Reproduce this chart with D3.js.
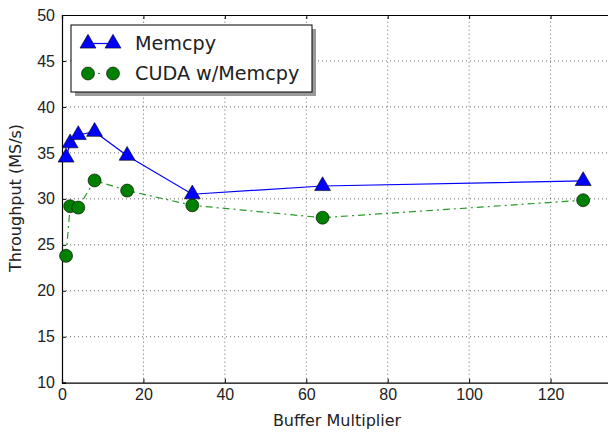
<!DOCTYPE html>
<html>
<head>
<meta charset="utf-8">
<script src="https://cdn.jsdelivr.net/npm/d3@7"></script>
<style>
  body { margin: 0; background: #fff; }
  svg { font-family: "DejaVu Sans", sans-serif; }
  .tick text { fill: #222; font-size: 16px; }
</style>
</head>
<body>
<script>
// Data
const bufferMultiplier = [1, 2, 4, 8, 16, 32, 64, 128];
const memcpy = [34.5, 36.05, 36.95, 37.3, 34.7, 30.5, 31.4, 31.95];
const cudaMemcpy = [23.8, 29.2, 29.05, 32.0, 30.9, 29.3, 27.95, 29.85];
const xTicks = [0, 20, 40, 60, 80, 100, 120];
const yTicks = [10, 15, 20, 25, 30, 35, 40, 45, 50];

const W = 608, H = 432;
const margin = { left: 62, top: 15 };
const plotW = 570, plotH = 367.7;

const svg = d3.select("body").append("svg")
    .attr("width", W)
    .attr("height", H);

const x = d3.scaleLinear().domain([0, 140]).range([margin.left, margin.left + plotW]);
const y = d3.scaleLinear().domain([10, 50]).range([margin.top + plotH, margin.top]);

svg.append("clipPath").attr("id", "plot-clip")
    .append("rect")
    .attr("x", margin.left).attr("y", margin.top)
    .attr("width", plotW).attr("height", plotH);

// Grid (dotted black)
const grid = svg.append("g");
grid.selectAll(".gx").data(xTicks.slice(1)).enter().append("line")
    .attr("x1", d => x(d)).attr("x2", d => x(d))
    .attr("y1", y(10)).attr("y2", y(50))
    .attr("stroke", "#000").attr("stroke-width", 0.6)
    .attr("stroke-dasharray", "1,3");
grid.selectAll(".gy").data(yTicks.slice(1, -1)).enter().append("line")
    .attr("x1", x(0)).attr("x2", x(140))
    .attr("y1", d => y(d)).attr("y2", d => y(d))
    .attr("stroke", "#000").attr("stroke-width", 0.6)
    .attr("stroke-dasharray", "1,3");

// Axes with inward ticks
const xAxis = svg.append("g")
    .attr("transform", `translate(0,${y(10)})`)
    .call(d3.axisBottom(x).tickValues(xTicks).tickSize(-4).tickPadding(8).tickFormat(d3.format("d")));
const xAxisTop = svg.append("g")
    .attr("transform", `translate(0,${y(50)})`)
    .call(d3.axisTop(x).tickValues(xTicks).tickSize(-4).tickFormat(""));
const yAxis = svg.append("g")
    .attr("transform", `translate(${x(0)},0)`)
    .call(d3.axisLeft(y).tickValues(yTicks).tickSize(-4).tickPadding(7).tickFormat(d3.format("d")));
[xAxis, xAxisTop, yAxis].forEach(a => {
    a.select(".domain").attr("stroke", "#000").attr("stroke-width", 1.2);
    a.selectAll(".tick line").attr("stroke", "#000");
});
xAxis.selectAll(".tick text").attr("dy", "0.6em");

// Lines
const plot = svg.append("g").attr("clip-path", "url(#plot-clip)");
const line = d3.line().x(d => x(d[0])).y(d => y(d[1]));

plot.append("path")
    .datum(d3.zip(bufferMultiplier, memcpy))
    .attr("d", line)
    .attr("fill", "none").attr("stroke", "#0000ff").attr("stroke-width", 1.2);

plot.append("path")
    .datum(d3.zip(bufferMultiplier, cudaMemcpy))
    .attr("d", line)
    .attr("fill", "none").attr("stroke", "#2a9a2a").attr("stroke-width", 1.2)
    .attr("stroke-dasharray", "7,4,2,4");

// Markers
const tri = d3.symbol().type(d3.symbolTriangle).size(110);

svg.append("g").selectAll("circle")
    .data(d3.zip(bufferMultiplier, cudaMemcpy))
    .enter().append("circle")
    .attr("cx", d => x(d[0])).attr("cy", d => y(d[1]))
    .attr("r", 6.5)
    .attr("fill", "#008000").attr("stroke", "#000").attr("stroke-width", 0.6);

svg.append("g").selectAll("path")
    .data(d3.zip(bufferMultiplier, memcpy))
    .enter().append("path")
    .attr("d", tri)
    .attr("transform", d => `translate(${x(d[0])},${y(d[1])})`)
    .attr("fill", "#0000ff").attr("stroke", "#000").attr("stroke-width", 0.6);

// Axis labels
svg.append("text")
    .attr("x", 337).attr("y", 426)
    .attr("text-anchor", "middle")
    .attr("font-size", "16px").attr("fill", "#222")
    .text("Buffer Multiplier");

svg.append("text")
    .attr("transform", "translate(21,198) rotate(-90)")
    .attr("text-anchor", "middle")
    .attr("font-size", "16px").attr("fill", "#222")
    .text("Throughput (MS/s)");

// Legend
const legend = svg.append("g").attr("transform", "translate(71,25)");
legend.append("rect")
    .attr("x", 4).attr("y", 4).attr("width", 241).attr("height", 67)
    .attr("fill", "#999");
legend.append("rect")
    .attr("x", 0).attr("y", 0).attr("width", 241).attr("height", 67)
    .attr("fill", "#fff").attr("stroke", "#000").attr("stroke-width", 1);

const legendItems = [
    { label: "Memcpy", color: "#0000ff", dash: null, shape: "tri" },
    { label: "CUDA w/Memcpy", color: "#2a9a2a", dash: "1,9,2,20", shape: "circle" }
];
const li = legend.selectAll(".legend-item")
    .data(legendItems).enter().append("g")
    .attr("transform", (d, i) => `translate(0,${18.5 + i * 30})`);
li.append("line")
    .attr("x1", 17).attr("x2", 42)
    .attr("stroke", d => d.color).attr("stroke-width", 1.2)
    .attr("stroke-dasharray", d => d.dash);
li.each(function(d) {
    const g = d3.select(this);
    [17, 42].forEach(cx => {
        if (d.shape === "tri") {
            g.append("path").attr("d", tri).attr("transform", `translate(${cx},0)`)
                .attr("fill", "#0000ff").attr("stroke", "#000").attr("stroke-width", 0.6);
        } else {
            g.append("circle").attr("cx", cx).attr("cy", 0).attr("r", 6.5)
                .attr("fill", "#008000").attr("stroke", "#000").attr("stroke-width", 0.6);
        }
    });
});
li.append("text")
    .attr("x", 64).attr("dy", "0.35em")
    .attr("font-size", "19.2px").attr("fill", "#222")
    .text(d => d.label);
</script>
</body>
</html>
